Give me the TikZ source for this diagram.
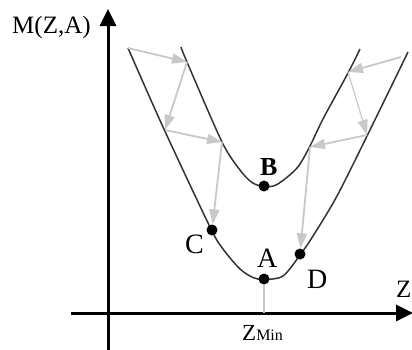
\documentclass[tikz,border=0pt]{standalone}
\usepackage{fontspec}
\setmainfont{Liberation Serif}
\usetikzlibrary{arrows.meta}
\definecolor{arrowgray}{RGB}{200,200,200}
\begin{document}
\begin{tikzpicture}[x=1pt,y=-1pt,
  axis/.style={line width=3pt, -{Triangle[length=17pt,width=16pt]}},
  curve/.style={black!80, line width=1.5pt},
  flow/.style={arrowgray, line width=1.8pt, -{Triangle[length=15pt,width=10pt]}},
  dot/.style={circle, fill=black, inner sep=0pt, minimum size=11pt},
  lab/.style={inner sep=0pt, anchor=base west, font=\fontsize{28}{32}\selectfont}]
\useasboundingbox (0,0) rectangle (412,349);

% axes
\coordinate (yb) at (108,350);
\coordinate (yt) at (108,9);
\coordinate (xl) at (71,313);
\coordinate (xr) at (413,313);
\draw[axis] (yb) -- (yt);
\draw[axis] (xl) -- (xr);

% curves
\draw[curve] plot[smooth, tension=0.5] coordinates {(128,48) (163,127) (210,227) (223,249) (240,269) (253,277.5) (264,279.5) (283,276) (300,255) (313,236) (337,196) (368,134) (408,52)};
\draw[curve] plot[smooth, tension=0.5] coordinates {(181,47) (187,62) (222,142) (240,170) (252,182.5) (264,186.5) (277,184.5) (297,168) (310,146) (323,119) (348,73) (360,49)};

% points on curves
\coordinate (p1) at (128,48);
\coordinate (p2) at (187,62);
\coordinate (p3) at (165,130);
\coordinate (p4) at (222,142);
\coordinate (q1) at (401,57);
\coordinate (q2) at (348,72);
\coordinate (q3) at (367,135);
\coordinate (q4) at (310,147);

% dots
\node[dot] (dB) at (264,186) {};
\node[dot] (dA) at (264,279) {};
\node[dot] (dC) at (212,230) {};
\node[dot] (dD) at (300,254) {};

% gray arrows
\draw[flow] (p1) -- (p2);
\draw[flow] (p2) -- (p3);
\draw[flow] (p3) -- (p4);
\draw[flow] (p4) -- (dC);
\draw[flow] (q1) -- (q2);
\draw[flow, line width=1.2pt] (q2) -- (q3);
\draw[flow] (q3) -- (q4);
\draw[flow] (q4) -- (dD);
\draw[arrowgray, line width=2pt] (dA) -- (dA |- xl);

% labels
\node[lab, font=\fontsize{25}{30}\selectfont] (ylab) at (12,33) {M(Z,A)};
\node[lab, font=\fontsize{26}{30}\selectfont\bfseries] (lB) at (260,175) {B};
\node[lab] (lC) at (185,253) {C};
\node[lab] (lA) at (257,267) {A};
\node[lab] (lD) at (307,288) {D};
\node[lab, font=\fontsize{25}{30}\selectfont] (xlab) at (396,297) {Z};
\node[inner sep=0pt, anchor=base west] (zmin) at (242,340) {\fontsize{23}{26}\selectfont Z\fontsize{16}{19}\selectfont Min};
\end{tikzpicture}
\end{document}
